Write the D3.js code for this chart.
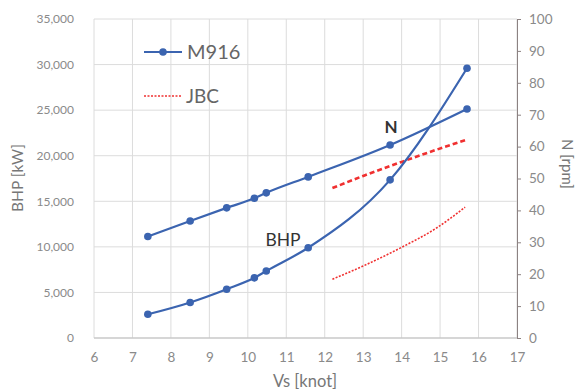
<!DOCTYPE html>
<html>
<head>
<meta charset="utf-8">
<script src="https://cdn.jsdelivr.net/npm/d3@7"></script>
<style>
  body { margin: 0; background: #fff; }
  svg text { font-family: Lato, "Open Sans", sans-serif; }
</style>
</head>
<body>
<div id="chart"></div>
<script>
// M916 measured points
var vsM916 = [7.4, 8.5, 9.45, 10.17, 10.48, 11.57, 13.7, 15.7];
var bhpM916 = [2600, 3900, 5350, 6600, 7350, 9900, 17350, 29600];
var nM916 = [31.8, 36.7, 40.8, 43.8, 45.5, 50.5, 60.5, 71.8];

// JBC curves
var vsJBC = [12.2, 13.0, 14.0, 14.9, 15.65];
var bhpJBC = [6450, 7900, 9950, 12050, 14350];
var nJBC = [47, 50.8, 55.2, 59, 62];

var xTicks = [6, 7, 8, 9, 10, 11, 12, 13, 14, 15, 16, 17];
var bhpTicks = [0, 5000, 10000, 15000, 20000, 25000, 30000, 35000];
var nTicks = [0, 10, 20, 30, 40, 50, 60, 70, 80, 90, 100];

var width = 579, height = 392;
var margin = {left: 94, right: 62, top: 19, bottom: 54};

var svg = d3.select("#chart").append("svg")
  .attr("width", width)
  .attr("height", height);

var x = d3.scaleLinear().domain([6, 17]).range([margin.left, width - margin.right]);
var yL = d3.scaleLinear().domain([0, 35000]).range([height - margin.bottom, margin.top]);
var yR = d3.scaleLinear().domain([0, 100]).range([height - margin.bottom, margin.top]);

var blue = "#3b64b0";
var red = "#f03030";
var textCol = "#8a8a8a";

// gridlines
svg.append("g")
  .selectAll("line")
  .data(bhpTicks)
  .enter().append("line")
  .attr("x1", x(6)).attr("x2", x(17))
  .attr("y1", d => yL(d)).attr("y2", d => yL(d))
  .attr("stroke", "#dcdcdc").attr("stroke-width", 1);

svg.append("g")
  .selectAll("line")
  .data(xTicks)
  .enter().append("line")
  .attr("x1", d => x(d)).attr("x2", d => x(d))
  .attr("y1", yL(0)).attr("y2", yL(35000))
  .attr("stroke", "#dcdcdc").attr("stroke-width", 1);

// bottom axis line
svg.append("line")
  .attr("x1", x(6)).attr("x2", x(17))
  .attr("y1", yL(0)).attr("y2", yL(0))
  .attr("stroke", "#bfbfbf");

// right axis
var rightAxis = d3.axisRight(yR).tickValues(nTicks).tickSize(4).tickPadding(8);
var gR = svg.append("g")
  .attr("transform", "translate(" + x(17) + ",0)")
  .call(rightAxis);
gR.select(".domain").attr("stroke", "#8c8282");
gR.selectAll(".tick line").attr("stroke", "#8c8282");
gR.selectAll("text").attr("fill", textCol).style("font-size", "13.5px").attr("x", 12);

// left axis labels
var leftAxis = d3.axisLeft(yL).tickValues(bhpTicks).tickSize(0).tickPadding(20)
  .tickFormat(d3.format(","));
var gL = svg.append("g")
  .attr("transform", "translate(" + x(6) + ",0)")
  .call(leftAxis);
gL.select(".domain").remove();
gL.selectAll("text").attr("fill", textCol).style("font-size", "12px");

// bottom axis labels
var bottomAxis = d3.axisBottom(x).tickValues(xTicks).tickSize(0).tickPadding(14);
var gB = svg.append("g")
  .attr("transform", "translate(0," + yL(0) + ")")
  .call(bottomAxis);
gB.select(".domain").remove();
gB.selectAll("text").attr("fill", textCol).style("font-size", "13.5px");

// axis titles
svg.append("text")
  .attr("transform", "translate(23,178) rotate(-90)")
  .attr("text-anchor", "middle")
  .attr("fill", "#777").style("font-size", "15.5px")
  .text("BHP [kW]");
svg.append("text")
  .attr("transform", "translate(562,164) rotate(90)")
  .attr("text-anchor", "middle")
  .attr("fill", "#777").style("font-size", "15px")
  .text("N [rpm]");
svg.append("text")
  .attr("x", 305).attr("y", 387)
  .attr("text-anchor", "middle")
  .attr("fill", "#777").style("font-size", "16.5px")
  .text("Vs [knot]");

// series data
var m916Bhp = vsM916.map((v, i) => [v, bhpM916[i]]);
var m916N = vsM916.map((v, i) => [v, nM916[i]]);
var jbcBhp = vsJBC.map((v, i) => [v, bhpJBC[i]]);
var jbcN = vsJBC.map((v, i) => [v, nJBC[i]]);

var lineL = d3.line().x(d => x(d[0])).y(d => yL(d[1])).curve(d3.curveMonotoneX);
var lineR = d3.line().x(d => x(d[0])).y(d => yR(d[1])).curve(d3.curveMonotoneX);

svg.append("path").datum(jbcBhp)
  .attr("d", lineL).attr("fill", "none")
  .attr("stroke", red).attr("stroke-width", 1.6).attr("stroke-dasharray", "2,1.5");
svg.append("path").datum(jbcN)
  .attr("d", lineR).attr("fill", "none")
  .attr("stroke", red).attr("stroke-width", 2.6).attr("stroke-dasharray", "5,3");

svg.append("path").datum(m916Bhp)
  .attr("d", lineL).attr("fill", "none")
  .attr("stroke", blue).attr("stroke-width", 2.2);
svg.append("path").datum(m916N)
  .attr("d", lineR).attr("fill", "none")
  .attr("stroke", blue).attr("stroke-width", 2.2);

svg.append("g").selectAll("circle").data(m916Bhp).enter().append("circle")
  .attr("cx", d => x(d[0])).attr("cy", d => yL(d[1])).attr("r", 3.8).attr("fill", blue);
svg.append("g").selectAll("circle").data(m916N).enter().append("circle")
  .attr("cx", d => x(d[0])).attr("cy", d => yR(d[1])).attr("r", 3.8).attr("fill", blue);

// inline labels
svg.append("text").attr("x", 391).attr("y", 133).attr("text-anchor", "middle")
  .attr("fill", "#333").style("font-size", "17px").style("font-weight", "bold").text("N");
svg.append("text").attr("x", 283).attr("y", 246).attr("text-anchor", "middle")
  .attr("fill", "#333").style("font-size", "17.5px").text("BHP");

// legend
var lg = svg.append("g");
lg.append("line").attr("x1", 144).attr("x2", 182).attr("y1", 52).attr("y2", 52)
  .attr("stroke", blue).attr("stroke-width", 2.2);
lg.append("circle").attr("cx", 163).attr("cy", 52).attr("r", 3.8).attr("fill", blue);
lg.append("text").attr("x", 187).attr("y", 59).attr("fill", "#666")
  .style("font-size", "20px").text("M916");
lg.append("line").attr("x1", 144).attr("x2", 182).attr("y1", 96).attr("y2", 96)
  .attr("stroke", red).attr("stroke-width", 1.6).attr("stroke-dasharray", "2,1.5");
lg.append("text").attr("x", 186).attr("y", 103).attr("fill", "#666")
  .style("font-size", "19px").text("JBC");
</script>
</body>
</html>
